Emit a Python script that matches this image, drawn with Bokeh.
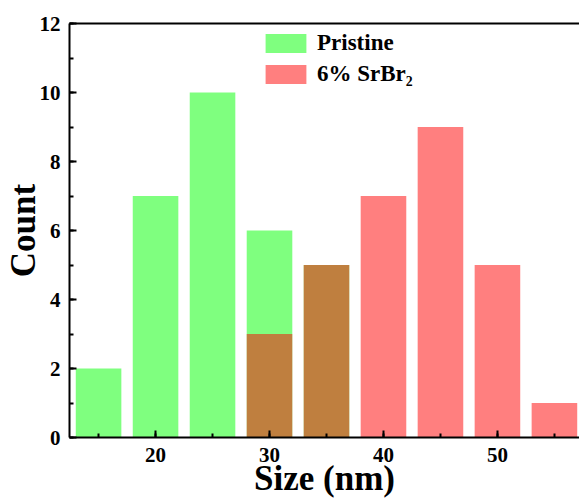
from bokeh.plotting import figure
from bokeh.models import (ColumnDataSource, Range1d, LinearAxis, SingleIntervalTicker,
                          FixedTicker, Legend, LegendItem)
from bokeh.embed import file_html
from bokeh.resources import INLINE

# Data
bin_centers_pristine = [15, 20, 25, 30, 35]
counts_pristine = [2, 7, 10, 6, 5]
bin_centers_srbr = [30, 35, 40, 45, 50, 55]
counts_srbr = [3, 5, 7, 9, 5, 1]
bar_width = 4
series_names = ["Pristine", "6% SrBr\u2082"]

FONT = "Liberation Serif"

p = figure(width=579, height=500, output_backend="svg", toolbar_location=None,
           x_range=Range1d(12.45, 57.2), y_range=Range1d(0, 12),
           min_border_left=69, min_border_right=0, min_border_top=23,
           min_border_bottom=63)
p.xgrid.visible = False
p.ygrid.visible = False
p.outline_line_color = None
p.background_fill_color = "white"
p.border_fill_color = "white"

src_p = ColumnDataSource(dict(x=bin_centers_pristine, top=counts_pristine))
src_s = ColumnDataSource(dict(x=bin_centers_srbr, top=counts_srbr))
r1 = p.vbar(x="x", top="top", width=bar_width, source=src_p,
            fill_color="#00FF00", fill_alpha=0.5, line_color=None)
r2 = p.vbar(x="x", top="top", width=bar_width, source=src_s,
            fill_color="#FF0000", fill_alpha=0.5, line_color=None)

# Axes styling
for ax in (p.xaxis[0], p.yaxis[0]):
    ax.axis_line_width = 2
    ax.axis_line_color = "black"
    ax.major_tick_in = 7
    ax.major_tick_out = 0
    ax.minor_tick_in = 4
    ax.minor_tick_out = 0
    ax.major_tick_line_width = 2
    ax.minor_tick_line_width = 2
    ax.major_label_text_font = FONT
    ax.major_label_text_font_style = "bold"
    ax.major_label_text_font_size = "21px"
    ax.major_label_text_color = "black"
    ax.axis_label_text_font = FONT
    ax.axis_label_text_font_style = "bold"
    ax.axis_label_text_font_size = "35px"
    ax.axis_label_text_color = "black"

p.xaxis[0].ticker = SingleIntervalTicker(interval=10, num_minor_ticks=2)
p.yaxis[0].ticker = SingleIntervalTicker(interval=2, num_minor_ticks=2)
p.xaxis[0].axis_label = "Size (nm)"
p.yaxis[0].axis_label = "Count"
p.xaxis[0].major_label_standoff = 10
p.yaxis[0].major_label_standoff = 9
p.xaxis[0].axis_label_standoff = -6
p.yaxis[0].axis_label_standoff = -6

top_ax = LinearAxis(axis_line_width=2, axis_line_color="black",
                    ticker=FixedTicker(ticks=[]),
                    major_tick_line_color=None, minor_tick_line_color=None)
p.add_layout(top_ax, "above")

legend = Legend(items=[LegendItem(label=series_names[0], renderers=[r1]),
                       LegendItem(label=series_names[1], renderers=[r2])],
                location=(191, 350), orientation="vertical",
                glyph_width=51, glyph_height=24, label_height=24,
                spacing=5, padding=0, margin=0, label_standoff=6,
                border_line_color=None, background_fill_alpha=0,
                label_text_font=FONT, label_text_font_style="bold",
                label_text_font_size="23px", label_text_color="black")
p.add_layout(legend, "center")

open("out.html", "w").write(file_html(p, INLINE))
